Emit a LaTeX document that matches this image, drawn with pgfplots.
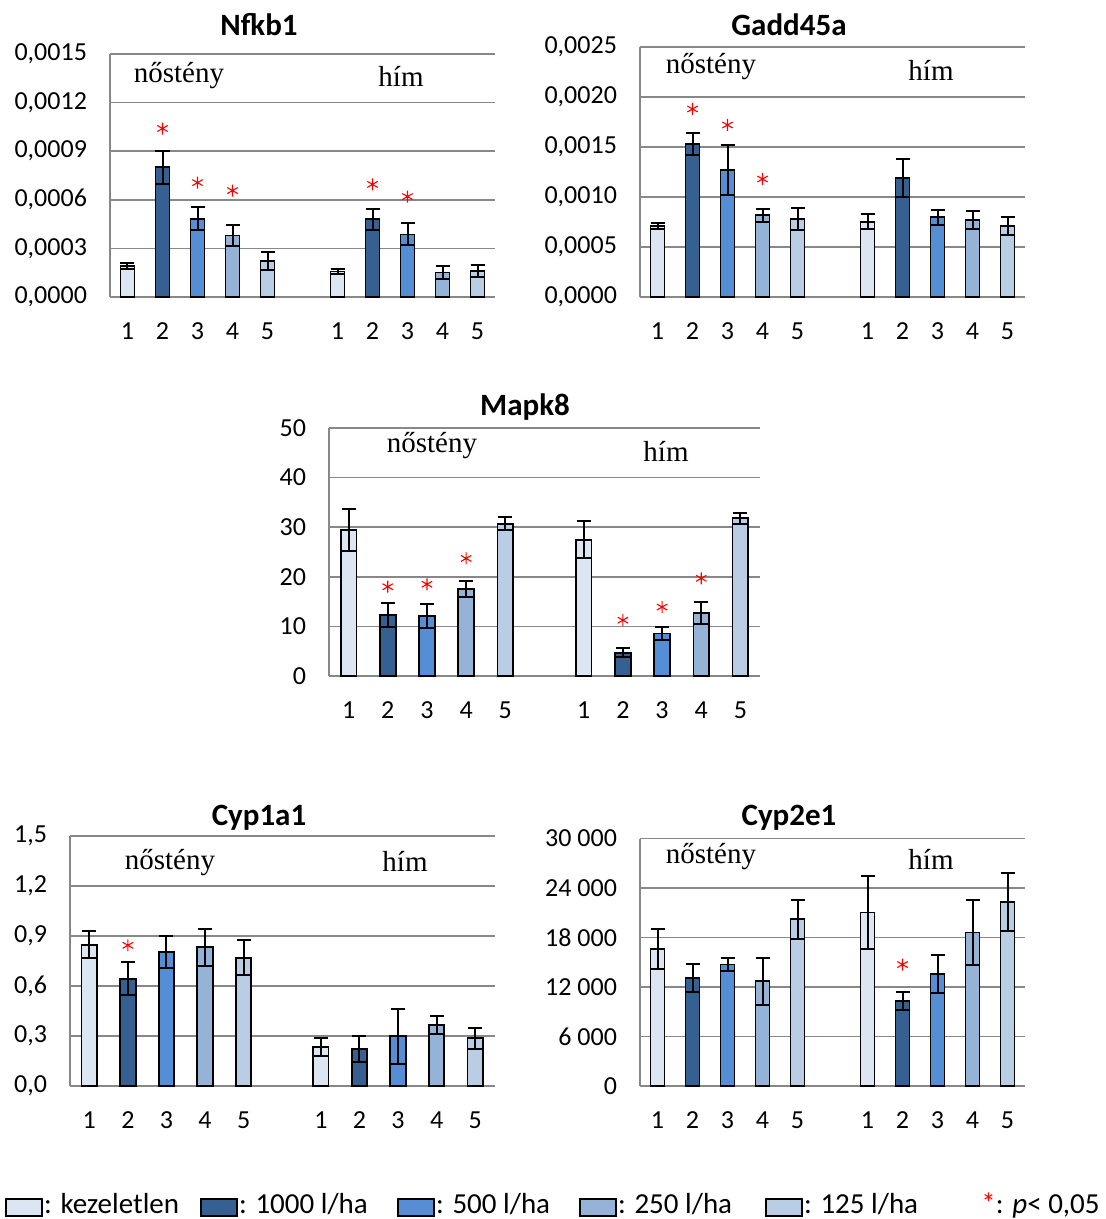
\documentclass[border=0pt]{standalone}
\usepackage{pgfplots}
\pgfplotsset{compat=1.18}
\usepackage{fontspec}
\setmainfont{Carlito}
\newfontfamily\timesf{Liberation Serif}
\definecolor{c1}{HTML}{DCE6F2}
\definecolor{c2}{HTML}{376092}
\definecolor{c3}{HTML}{558ED5}
\definecolor{c4}{HTML}{95B3D7}
\definecolor{c5}{HTML}{B9CDE5}
\definecolor{gridc}{HTML}{888888}
\pgfplotsset{
 panel/.style={scale only axis, anchor=south west, xmin=-0.5, xmax=10.5, ymin=0,
   xtick={0,1,2,3,4,6,7,8,9,10}, xticklabels={1,2,3,4,5,1,2,3,4,5},
   major tick length=0pt, ymajorgrids, grid style={gridc, line width=0.75pt},
   axis x line*=bottom, axis y line*=left, axis line style={gridc, line width=0.9pt},
   tick label style={font=\fontsize{13}{15}\selectfont, black},
   y tick label style={xshift=-8pt}, x tick label style={yshift=-9.5pt},
   scaled y ticks=false, clip=false},
 bars/.style={ybar, bar width=0.4, bar shift=0pt, fill=#1, draw=black, line width=0.9pt,
   /pgfplots/error bars/y dir=both, /pgfplots/error bars/y explicit,
   /pgfplots/error bars/error bar style={black, line width=1pt},
   /pgfplots/error bars/error mark options={rotate=90, black, mark size=3.5pt, line width=1pt}},
 stars/.style={only marks, mark=asterisk, mark size=3pt, red, mark options={line width=0.55pt}}
}
\newcommand{\ttlfont}{\bfseries\fontsize{15.5}{18}\selectfont}
\newcommand{\sxfont}{\timesf\fontsize{14.5}{17}\selectfont}
\newcommand{\lgfont}{\fontsize{14.5}{17}\selectfont}
\begin{document}
\begin{tikzpicture}
\path[use as bounding box] (0,0) rectangle (552.5pt,-609.5pt);

% Nfkb1
\begin{axis}[panel, at={(55pt,-148.5pt)}, width=192.5pt, height=121.5pt,
  ymax=0.0015, ytick={0,0.0003,0.0006,0.0009,0.0012,0.0015},
  y tick label style={/pgf/number format/.cd, fixed, fixed zerofill, precision=4, use comma, assume math mode=true}]
\addplot[bars=c1] coordinates {(0,0.00019) +- (0,0.00002) (6,0.000157) +- (0,0.000017)};
\addplot[bars=c2] coordinates {(1,0.00080) +- (0,0.0001) (7,0.00048) +- (0,0.000066)};
\addplot[bars=c3] coordinates {(2,0.000483) +- (0,0.00007) (8,0.000386) +- (0,0.000068)};
\addplot[bars=c4] coordinates {(3,0.00038) +- (0,0.000066) (9,0.000151) +- (0,0.00004)};
\addplot[bars=c5] coordinates {(4,0.000223) +- (0,0.000054) (10,0.000159) +- (0,0.000037)};
\addplot[stars] coordinates {(1,0.00104) (2,0.000706) (3,0.000657) (7,0.000695) (8,0.00062)};
\end{axis}

% Gadd45a
\begin{axis}[panel, at={(320pt,-148.5pt)}, width=192.5pt, height=125pt,
  ymax=0.0025, ytick={0,0.0005,0.001,0.0015,0.002,0.0025},
  y tick label style={/pgf/number format/.cd, fixed, fixed zerofill, precision=4, use comma, assume math mode=true}]
\addplot[bars=c1] coordinates {(0,0.00071) +- (0,0.00003) (6,0.000753) +- (0,0.000073)};
\addplot[bars=c2] coordinates {(1,0.00153) +- (0,0.00011) (7,0.00119) +- (0,0.00019)};
\addplot[bars=c3] coordinates {(2,0.00127) +- (0,0.00025) (8,0.000797) +- (0,0.000077)};
\addplot[bars=c4] coordinates {(3,0.000817) +- (0,0.000067) (9,0.00077) +- (0,0.00009)};
\addplot[bars=c5] coordinates {(4,0.00078) +- (0,0.00011) (10,0.000713) +- (0,0.00009)};
\addplot[stars] coordinates {(1,0.00188) (2,0.00172) (3,0.00118)};
\end{axis}

% Mapk8
\begin{axis}[panel, at={(164.5pt,-338pt)}, width=215.5pt, height=124pt,
  ymax=50, ytick={0,10,20,30,40,50},
  y tick label style={/pgf/number format/assume math mode=true}]
\addplot[bars=c1] coordinates {(0,29.5) +- (0,4.2) (6,27.5) +- (0,3.7)};
\addplot[bars=c2] coordinates {(1,12.3) +- (0,2.5) (7,4.65) +- (0,0.9)};
\addplot[bars=c3] coordinates {(2,12.1) +- (0,2.4) (8,8.56) +- (0,1.3)};
\addplot[bars=c4] coordinates {(3,17.5) +- (0,1.6) (9,12.7) +- (0,2.3)};
\addplot[bars=c5] coordinates {(4,30.7) +- (0,1.3) (10,31.8) +- (0,1.15)};
\addplot[stars] coordinates {(1,18.0) (2,18.5) (3,23.7) (7,11.25) (8,13.9) (9,19.7)};
\end{axis}

% Cyp1a1
\begin{axis}[panel, at={(35pt,-543pt)}, width=212.25pt, height=125pt,
  ymax=1.5, ytick={0,0.3,0.6,0.9,1.2,1.5},
  y tick label style={/pgf/number format/.cd, fixed, fixed zerofill, precision=1, use comma, assume math mode=true}]
\addplot[bars=c1] coordinates {(0,0.848) +- (0,0.08) (6,0.234) +- (0,0.052)};
\addplot[bars=c2] coordinates {(1,0.644) +- (0,0.098) (7,0.222) +- (0,0.076)};
\addplot[bars=c3] coordinates {(2,0.802) +- (0,0.096) (8,0.298) +- (0,0.164)};
\addplot[bars=c4] coordinates {(3,0.832) +- (0,0.11) (9,0.366) +- (0,0.052)};
\addplot[bars=c5] coordinates {(4,0.77) +- (0,0.106) (10,0.286) +- (0,0.064)};
\addplot[stars] coordinates {(1,0.844)};
\end{axis}

% Cyp2e1
\begin{axis}[panel, at={(320pt,-543pt)}, width=192.5pt, height=123.75pt,
  ymax=30000, ytick={0,6000,12000,18000,24000,30000},
  y tick label style={/pgf/number format/.cd, fixed, precision=0, 1000 sep={\ }, assume math mode=true}]
\addplot[bars=c1] coordinates {(0,16580) +- (0,2420) (6,21030) +- (0,4400)};
\addplot[bars=c2] coordinates {(1,13100) +- (0,1660) (7,10270) +- (0,1090)};
\addplot[bars=c3] coordinates {(2,14720) +- (0,810) (8,13590) +- (0,2340)};
\addplot[bars=c4] coordinates {(3,12700) +- (0,2830) (9,18600) +- (0,3920)};
\addplot[bars=c5] coordinates {(4,20220) +- (0,2380) (10,22280) +- (0,3480)};
\addplot[stars] coordinates {(7,14720)};
\end{axis}

% titles
\node[font=\ttlfont, anchor=base] at (129.5pt,-18pt) {Nfkb1};
\node[font=\ttlfont, anchor=base] at (394.5pt,-18pt) {Gadd45a};
\node[font=\ttlfont, anchor=base] at (262.5pt,-207.5pt) {Mapk8};
\node[font=\ttlfont, anchor=base] at (129.5pt,-412.5pt) {Cyp1a1};
\node[font=\ttlfont, anchor=base] at (394.5pt,-412.5pt) {Cyp2e1};

% group labels
\node[font=\sxfont, anchor=base] at (89.5pt,-41.5pt) {nőstény};
\node[font=\sxfont, anchor=base] at (200.5pt,-43.5pt) {hím};
\node[font=\sxfont, anchor=base] at (355.5pt,-37pt) {nőstény};
\node[font=\sxfont, anchor=base] at (465.5pt,-40.5pt) {hím};
\node[font=\sxfont, anchor=base] at (216pt,-226pt) {nőstény};
\node[font=\sxfont, anchor=base] at (333pt,-230.5pt) {hím};
\node[font=\sxfont, anchor=base] at (85pt,-434.5pt) {nőstény};
\node[font=\sxfont, anchor=base] at (202.5pt,-435.5pt) {hím};
\node[font=\sxfont, anchor=base] at (355.5pt,-431.5pt) {nőstény};
\node[font=\sxfont, anchor=base] at (465.5pt,-434.5pt) {hím};

% legend
\foreach \c/\xa/\t in {c1/3/{: kezeletlen}, c2/100.5/{: 1000 l/ha}, c3/199/{: 500 l/ha}, c4/290/{: 250 l/ha}, c5/383/{: 125 l/ha}} {
  \draw[fill=\c, draw=black, line width=0.7pt] (\xa pt,-599.5pt) rectangle ++(18pt,-8.5pt);
  \node[font=\lgfont, anchor=base west, inner sep=0pt] at (\xa pt+18.8pt,-606.5pt) {\t};
}
\node[font=\lgfont, anchor=base east, inner sep=0pt] at (550pt,-606.5pt) {{\color{red}*}: \textit{p}< 0,05};
\end{tikzpicture}
\end{document}
